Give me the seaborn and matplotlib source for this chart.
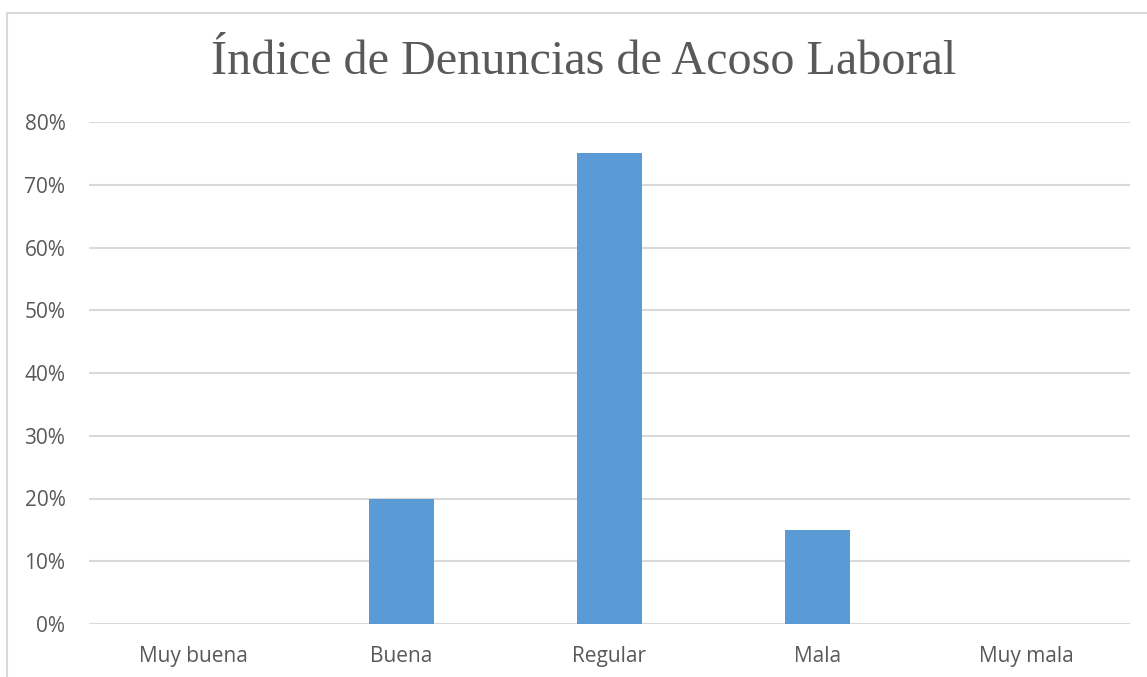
import numpy as np
import pandas as pd
import matplotlib
matplotlib.use("Agg")
import matplotlib.pyplot as plt
import seaborn as sns
from matplotlib.ticker import PercentFormatter
from matplotlib.patches import Rectangle

categorias = ["Muy buena", "Buena", "Regular", "Mala", "Muy mala"]
porcentajes = [0.0, 20.0, 75.0, 15.0, 0.0]
ticks_y = [0, 10, 20, 30, 40, 50, 60, 70, 80]

sns.set_style("white")
plt.rcParams['font.family'] = ['Open Sans', 'DejaVu Sans']

df = pd.DataFrame({"categoria": categorias, "valor": porcentajes})

fig = plt.figure(figsize=(11.47, 6.77), dpi=100)
ax = fig.add_axes([89 / 1147, 1 - 624 / 677, (1130 - 89) / 1147, (624 - 122) / 677])

# marco del grafico (cortado a la derecha y abajo como en la imagen)
fig.patches.append(Rectangle((7 / 1147, -0.05), 1.1, 1 - 13 / 677 + 0.05,
                             transform=fig.transFigure, fill=False,
                             edgecolor="#d9d9d9", linewidth=1.5))

sns.barplot(data=df, x="categoria", y="valor", color="#5B9BD5", width=0.31,
            saturation=1, ax=ax, zorder=3, linewidth=0)

ax.set_ylim(0, 80)
ax.set_yticks(ticks_y)
ax.yaxis.set_major_formatter(PercentFormatter(decimals=0))
ax.grid(axis="y", color="#d9d9d9", linewidth=1.5, zorder=0)
ax.set_axisbelow(True)
for s in ax.spines.values():
    s.set_visible(False)
ax.set_xlabel("")
ax.set_ylabel("")
ax.tick_params(axis="both", length=0, labelsize=15, colors="#595959")
ax.tick_params(axis="x", pad=16)
ax.tick_params(axis="y", pad=17)
ax.set_xlim(-0.5, 4.5)

fig.text(584 / 1147, 1 - 62 / 677, "Índice de Denuncias de Acoso Laboral",
         ha="center", va="center", fontsize=34.7, color="#595959",
         family=["Liberation Serif", "DejaVu Serif"])

fig.savefig("out.png", dpi=100, facecolor="white")
